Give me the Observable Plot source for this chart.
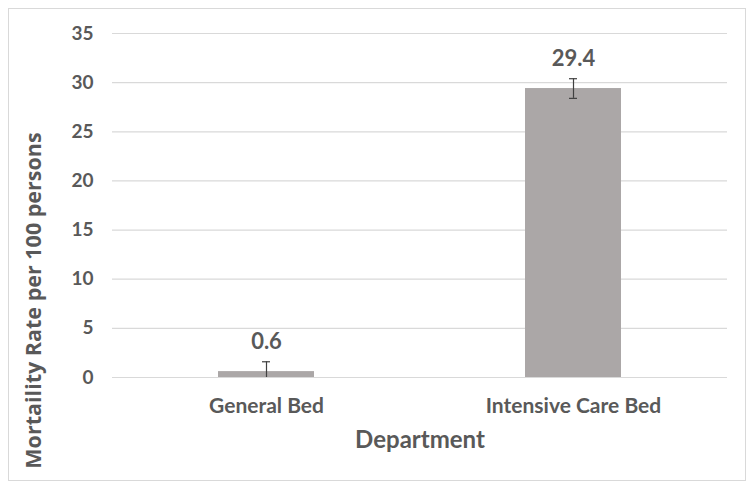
<!DOCTYPE html>
<html>
<head>
<meta charset="utf-8">
<script src="https://cdn.jsdelivr.net/npm/d3@7"></script>
<script src="https://cdn.jsdelivr.net/npm/@observablehq/plot@0.6"></script>
<style>
  html, body { margin: 0; padding: 0; background: #fff; }
  #wrap { position: relative; width: 751px; height: 487px; }
  #border { position: absolute; left: 8px; top: 8px; width: 736px; height: 471px; border: 1px solid #d9d9d9; pointer-events: none; }
  #chart svg { display: block; }
</style>
</head>
<body>
<div id="wrap"><div id="chart"></div><div id="border"></div></div>
<script>
const categories = ["General Bed", "Intensive Care Bed"];
const values = [0.6, 29.4];
const errors = [1.0, 1.0];
const yTicks = [0, 5, 10, 15, 20, 25, 30, 35];
const xTitle = "Department";
const yTitle = "Mortaility Rate per 100 persons";

const data = categories.map((c, i) => ({
  cat: c,
  v: values[i],
  lo: Math.max(0, values[i] - errors[i]),
  hi: values[i] + errors[i],
  label: values[i].toFixed(1)
}));

const font = "Lato, 'Open Sans', sans-serif";
const grey = "#595959";

const chart = Plot.plot({
  width: 751,
  height: 487,
  marginLeft: 112,
  marginRight: 24,
  marginTop: 33,
  marginBottom: 110,
  style: { fontFamily: font, background: "transparent" },
  x: { domain: categories, paddingInner: 0.688, paddingOuter: 0.344, label: null },
  y: { domain: [0, 35], label: null },
  marks: [
    Plot.ruleY(yTicks, { stroke: "#d9d9d9", strokeWidth: 1.2 }),
    Plot.barY(data, { x: "cat", y: "v", fill: "#aba7a7" }),
    Plot.ruleX(data, { x: "cat", y1: "lo", y2: "hi", stroke: "#404040", strokeWidth: 1.2 }),
    Plot.tickY(data, { x: "cat", y: "hi", stroke: "#404040", strokeWidth: 1.2, insetLeft: 44, insetRight: 44 }),
    Plot.tickY(data.filter(d => d.v - 1.0 >= 0), { x: "cat", y: "lo", stroke: "#404040", strokeWidth: 1.2, insetLeft: 44, insetRight: 44 }),
    Plot.text(data, { x: "cat", y: "hi", text: "label", dy: -13, fontSize: 22, fontWeight: "bold", fill: grey, lineAnchor: "bottom" }),
    Plot.axisY({ ticks: yTicks, tickSize: 0, tickPadding: 19, fontSize: 19, fontWeight: "bold", color: grey, label: null }),
    Plot.axisX({ tickSize: 0, tickPadding: 21, fontSize: 21, fontWeight: "bold", color: grey, label: null }),
    Plot.text([xTitle], { frameAnchor: "bottom", dy: 63, fontSize: 24, fontWeight: "bold", fill: grey, lineAnchor: "middle" }),
    Plot.text([yTitle], { frameAnchor: "left", dx: -78, dy: 95, rotate: -90, textAnchor: "middle", fontFamily: "'Open Sans', sans-serif", fontSize: 21.5, fontWeight: "bold", fill: grey, lineAnchor: "middle" })
  ]
});
document.getElementById("chart").appendChild(chart);
</script>
</body>
</html>
